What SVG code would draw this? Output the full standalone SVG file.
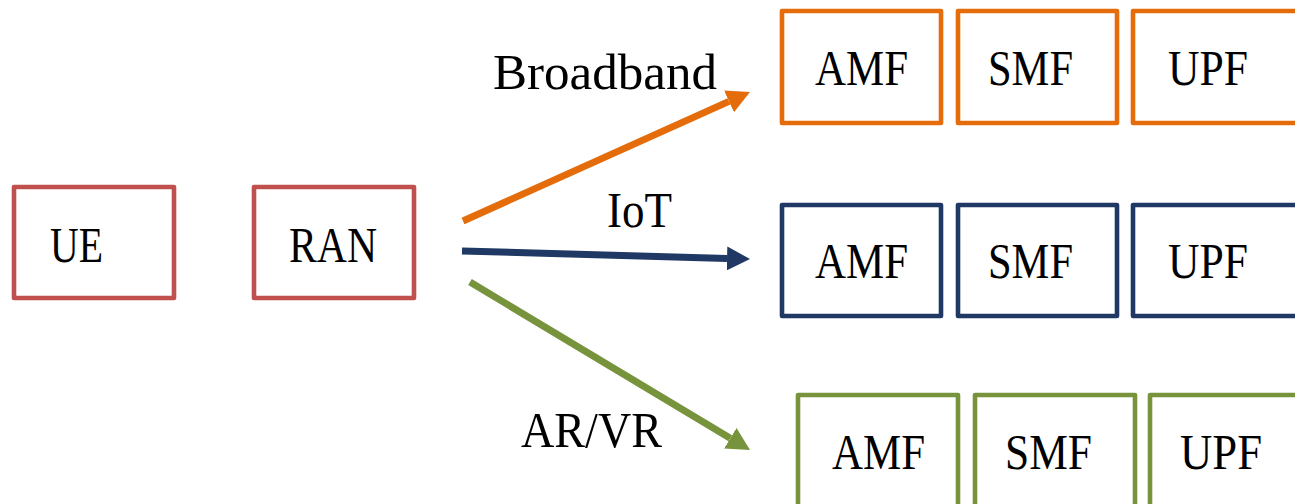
<svg xmlns="http://www.w3.org/2000/svg" width="1295" height="504" viewBox="0 0 1295 504">
  <style>
    .box { fill: #ffffff; stroke-width: 4.6; stroke-linejoin: round; }
    .red { stroke: #C0504D; }
    .orange { stroke: #E46C0A; }
    .blue { stroke: #1F3864; }
    .green { stroke: #77933C; }
    text { font-family: "Liberation Serif", "Times New Roman", serif; font-size: 50px; fill: #000000; }
    .link { stroke-width: 7; fill: none; stroke-linecap: butt; }
  </style>
  <defs>
    <marker id="head-orange" markerUnits="userSpaceOnUse" markerWidth="24" markerHeight="24" refX="0" refY="12" orient="auto">
      <path d="M0,0 L23,12 L0,24 Z" fill="#E46C0A"/>
    </marker>
    <marker id="head-blue" markerUnits="userSpaceOnUse" markerWidth="24" markerHeight="24" refX="0" refY="12" orient="auto">
      <path d="M0,0 L23,12 L0,24 Z" fill="#1F3864"/>
    </marker>
    <marker id="head-green" markerUnits="userSpaceOnUse" markerWidth="24" markerHeight="24" refX="0" refY="12" orient="auto">
      <path d="M0,0 L23,12 L0,24 Z" fill="#77933C"/>
    </marker>
  </defs>

  <!-- access side -->
  <g id="ue">
    <rect class="box red" x="14" y="187" width="160" height="111"/>
    <text x="50" y="262" textLength="53" lengthAdjust="spacingAndGlyphs">UE</text>
  </g>
  <g id="ran">
    <rect class="box red" x="254" y="187" width="160" height="111"/>
    <text x="289" y="262" textLength="88" lengthAdjust="spacingAndGlyphs">RAN</text>
  </g>

  <!-- broadband slice -->
  <g id="bb-amf">
    <rect class="box orange" x="782" y="11" width="159" height="112"/>
    <text x="815" y="85" textLength="93" lengthAdjust="spacingAndGlyphs">AMF</text>
  </g>
  <g id="bb-smf">
    <rect class="box orange" x="958" y="11" width="159" height="112"/>
    <text x="988" y="85" textLength="85" lengthAdjust="spacingAndGlyphs">SMF</text>
  </g>
  <g id="bb-upf">
    <rect class="box orange" x="1133" y="11" width="172" height="112"/>
    <text x="1168" y="85" textLength="80" lengthAdjust="spacingAndGlyphs">UPF</text>
  </g>

  <!-- IoT slice -->
  <g id="iot-amf">
    <rect class="box blue" x="782" y="205" width="159" height="111"/>
    <text x="815" y="278" textLength="93" lengthAdjust="spacingAndGlyphs">AMF</text>
  </g>
  <g id="iot-smf">
    <rect class="box blue" x="958" y="205" width="159" height="111"/>
    <text x="988" y="278" textLength="85" lengthAdjust="spacingAndGlyphs">SMF</text>
  </g>
  <g id="iot-upf">
    <rect class="box blue" x="1133" y="205" width="172" height="111"/>
    <text x="1168" y="278" textLength="80" lengthAdjust="spacingAndGlyphs">UPF</text>
  </g>

  <!-- AR/VR slice -->
  <g id="xr-amf">
    <rect class="box green" x="798" y="395" width="160" height="200"/>
    <text x="832" y="469" textLength="93" lengthAdjust="spacingAndGlyphs">AMF</text>
  </g>
  <g id="xr-smf">
    <rect class="box green" x="975" y="395" width="160" height="200"/>
    <text x="1005" y="469" textLength="87" lengthAdjust="spacingAndGlyphs">SMF</text>
  </g>
  <g id="xr-upf">
    <rect class="box green" x="1150" y="395" width="160" height="200"/>
    <text x="1180" y="469" textLength="82" lengthAdjust="spacingAndGlyphs">UPF</text>
  </g>

  <!-- connectors from the RAN to each slice -->
  <g id="connectors">
    <line class="link" x1="463" y1="221" x2="729" y2="101.4" stroke="#E46C0A" marker-end="url(#head-orange)"/>
    <line class="link" x1="462" y1="251" x2="727" y2="258.4" stroke="#1F3864" marker-end="url(#head-blue)"/>
    <line class="link" x1="470" y1="282" x2="730.3" y2="438.2" stroke="#77933C" marker-end="url(#head-green)"/>
    <text x="493" y="89" textLength="224" lengthAdjust="spacingAndGlyphs">Broadband</text>
    <text x="607" y="227" textLength="65" lengthAdjust="spacingAndGlyphs">IoT</text>
    <text x="521" y="447" textLength="141" lengthAdjust="spacingAndGlyphs">AR/VR</text>
  </g>
</svg>
